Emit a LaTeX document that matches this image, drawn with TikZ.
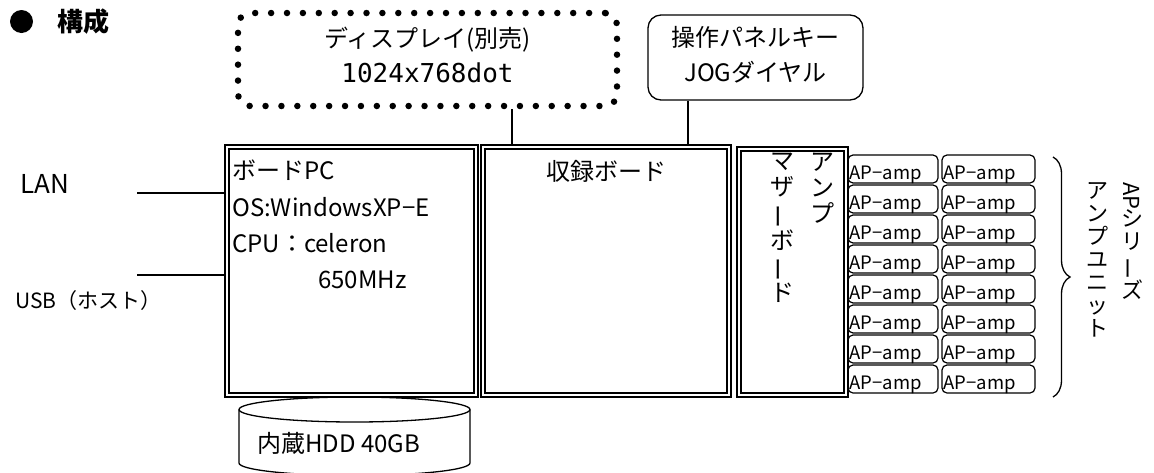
\documentclass[tikz,border=0pt]{standalone}
\usepackage{fontspec}
\usepackage{graphicx}
\usepackage{xcolor}
\usepackage{tikz}
\usetikzlibrary{calc,decorations.pathreplacing}
\setmainfont{Noto Sans CJK JP}
\newfontfamily\monofnt{DejaVu Sans Mono}
\definecolor{ink}{HTML}{000000}
\newcommand{\vlong}{\rotatebox[origin=c]{90}{ー}}
\tikzset{
  base/.style={draw=ink, line width=1.3pt},
  dbl/.style={draw=ink, double=white, double distance=2.2pt, line width=1.7pt},
  dotbox/.style={draw=ink, line width=6.5pt, dash pattern=on 0pt off 15.9pt, line cap=round, rounded corners=12pt},
  rbox/.style={base, rounded corners=13pt},
  ampbox/.style={base, line width=1.2pt, rounded corners=5pt, minimum height=28pt},
  lab/.style={text=ink, font=\fontsize{24}{24}\selectfont, inner sep=0pt},
  labs/.style={text=ink, font=\fontsize{18.5}{18.5}\selectfont, inner sep=0pt},
  labv/.style={text=ink, align=center, inner sep=0pt},
}
\begin{document}
\begin{tikzpicture}[x=1pt,y=-1pt]
  \useasboundingbox (0,0) rectangle (1154,472);
  \node[circle, fill=ink, minimum size=23pt, inner sep=0pt] (bul) at (21.5,21.5) {};
  \node[lab, font=\bfseries\fontsize{26}{26}\selectfont] (title) at (83,22) {構成};
  % top units
  \node[dotbox, minimum width=379pt, minimum height=93pt, align=center, text depth=10pt, font=\fontsize{24}{35}\selectfont] (disp) at (427.5,59.5)
    {ディスプレイ(別売)\\{\monofnt\fontsize{26}{35}\selectfont 1024x768dot}};
  \node[rbox, minimum width=215pt, minimum height=85pt, align=center, text depth=8pt, font=\fontsize{24}{35}\selectfont] (panel) at (755.5,57.5)
    {操作パネルキー\\JOGダイヤル};
  % boards
  \node[dbl, minimum width=249pt, minimum height=248pt] (pc) at (351.5,271) {};
  \node[dbl, minimum width=246pt, minimum height=248pt] (rec) at (606,271) {};
  \node[dbl, minimum width=107pt, minimum height=246pt] (mb) at (792.5,272) {};
  \node[lab, anchor=base west] (pcname) at (232,179) {ボードPC};
  \node[lab, anchor=base west] (pcos) at (232,216) {OS:WindowsXP−E};
  \node[lab, anchor=base west] (pccpu) at (232,252) {CPU：celeron};
  \node[lab, anchor=base west] (pcclk) at (318,288) {650MHz};
  \node[lab, anchor=base] (recname) at (606,180) {収録ボード};
  \node[labv, font=\fontsize{24}{26}\selectfont, anchor=north] (mbright) at (822,153) {ア\\ン\\プ};
  \node[labv, font=\fontsize{24}{26}\selectfont, anchor=north] (mbleft) at (782,153) {マ\\ザ\\\vlong\\ボ\\\vlong\\ド};
  \draw[base] ([xshift=84.5pt]disp.south) coordinate (dj) -- (dj |- rec.north);
  \draw[base] ([xshift=-67.5pt]panel.south) coordinate (pj) -- (pj |- rec.north);
  % external ports
  \node[lab, font=\fontsize{26}{26}\selectfont, anchor=base west] (lan) at (20,193) {LAN};
  \node[lab, font=\fontsize{21}{21}\selectfont, anchor=base west] (usb) at (15,308) {USB（ホスト）};
  \coordinate (lanend) at (137,193);
  \coordinate (usbend) at (137,275);
  \draw[base] (lanend) -- (lanend -| pc.west);
  \draw[base] (usbend) -- (usbend -| pc.west);
  % hdd
  \draw[base] (354.5,409.5) ellipse [x radius=115.5pt, y radius=12.5pt];
  \draw[base] (239,409.5) -- (239,463) arc[start angle=180, end angle=360, x radius=115.5pt, y radius=12.5pt] -- (470,409.5);
  \node[lab, anchor=base west] (hdd) at (257,452) {内蔵HDD 40GB};
  % amp units
  \foreach \r in {0,...,7}{
    \node[ampbox, minimum width=90pt] (ampa\r) at (893,169+30*\r) {};
    \node[ampbox, minimum width=93pt] (ampb\r) at (988.5,169+30*\r) {};
    \node[labs, anchor=base west] (tampa\r) at ([xshift=2pt,yshift=4pt]ampa\r.south west) {AP−amp};
    \node[labs, anchor=base west] (tampb\r) at ([xshift=2pt,yshift=4pt]ampb\r.south west) {AP−amp};
  }
  \coordinate (bt) at (1053,157);
  \coordinate (bb) at (1053,397);
  \draw[base, decorate, decoration={brace, amplitude=17pt}] (bt) -- (bb);
  \node[labv, font=\fontsize{22}{23}\selectfont, anchor=north] (apser) at (1132,182) {\rotatebox[origin=c]{-90}{AP}\\シ\\リ\\\vlong\\ズ};
  \node[labv, font=\fontsize{22}{23}\selectfont, anchor=north] (apunit) at (1097,182) {ア\\ン\\プ\\ユ\\ニ\\ッ\\ト};
\end{tikzpicture}
\end{document}
